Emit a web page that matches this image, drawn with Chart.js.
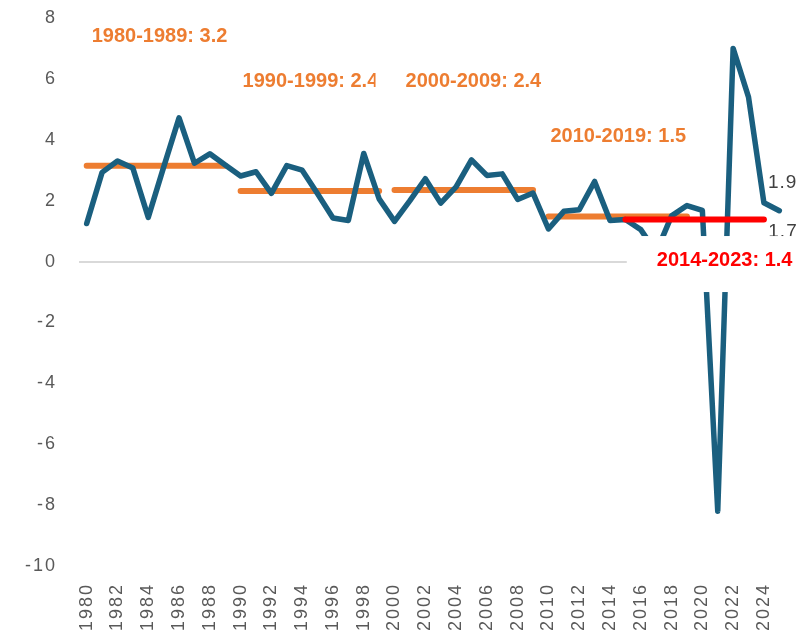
<!DOCTYPE html>
<html>
<head>
<meta charset="utf-8">
<script src="https://cdn.jsdelivr.net/npm/chart.js@4.4.1/dist/chart.umd.min.js"></script>
<style>
  html, body { margin: 0; padding: 0; background: #fff; }
  #wrap { width: 797px; height: 633px; }
</style>
</head>
<body>
<div id="wrap"><canvas id="growthChart" width="797" height="633"></canvas></div>
<script>
// Years on the x axis
const years = ['1980','1981','1982','1983','1984','1985','1986','1987','1988','1989',
               '1990','1991','1992','1993','1994','1995','1996','1997','1998','1999',
               '2000','2001','2002','2003','2004','2005','2006','2007','2008','2009',
               '2010','2011','2012','2013','2014','2015','2016','2017','2018','2019',
               '2020','2021','2022','2023','2024','2025'];

// Annual growth (%)
const growth = [1.25, 2.93, 3.30, 3.07, 1.45, 3.10, 4.72, 3.23, 3.54, 3.17,
                2.81, 2.95, 2.24, 3.15, 3.00, 2.23, 1.43, 1.35, 3.55, 2.06,
                1.32, 2.00, 2.72, 1.92, 2.45, 3.34, 2.83, 2.88, 2.04, 2.25,
                1.07, 1.65, 1.70, 2.63, 1.35, 1.38, 1.05, 0.30, 1.50, 1.84,
                1.68, -8.20, 7.00, 5.40, 1.93, 1.67];

// Decade averages (orange)
const decadeStart = ['1980', '1990', '2000', '2010'];
const decadeEnd   = ['1989', '1999', '2009', '2019'];
const decadeAvg   = [3.15, 2.32, 2.35, 1.48];
const decadeText  = ['1980-1989: 3.2', '1990-1999: 2.4', '2000-2009: 2.4', '2010-2019: 1.5'];

// Last ten years average (red)
const recentStart = '2015';
const recentEnd   = '2024';
const recentAvg   = 1.38;
const recentText  = '2014-2023: 1.4';

// Where the period labels sit (year, value)
const labelYear  = ['1980', '1990', '2000', '2010', '2016'];
const labelValue = [7.38, 5.92, 5.92, 4.1, 0.05];

// End-of-series value labels
const endYears = ['2024', '2025'];
const endText  = ['1.9', '1.7'];

// Y axis ticks
const yMin = -10, yMax = 8, yStep = 2;

const FONT = '"Liberation Sans", Arial, sans-serif';
const BLUE = '#1A5F7F';
const ORANGE = '#ED7D31';
const RED = '#FF0000';

function spanSeries(start, end, val) {
    const a = years.indexOf(start), b = years.indexOf(end);
    return years.map((_, i) => (i >= a && i <= b) ? val : null);
}

const datasets = [{
    label: 'Growth',
    data: growth,
    borderColor: BLUE,
    borderWidth: 5.5,
    pointRadius: 0,
    tension: 0,
    borderJoinStyle: 'round',
    borderCapStyle: 'round',
    order: 1
}];

decadeStart.forEach((s, i) => {
    datasets.push({
        label: decadeText[i],
        data: spanSeries(s, decadeEnd[i], decadeAvg[i]),
        borderColor: ORANGE,
        borderWidth: 6,
        pointRadius: 0,
        borderCapStyle: 'round',
        spanGaps: false,
        order: 2
    });
});

datasets.push({
    label: recentText,
    data: spanSeries(recentStart, recentEnd, recentAvg),
    borderColor: RED,
    borderWidth: 6,
    pointRadius: 0,
    borderCapStyle: 'round',
    spanGaps: false,
    order: 0
});

// Draws the value labels and the boxed period labels on top of the lines
const labelPlugin = {
    id: 'periodLabels',
    beforeDraw(chart) {
        chart.ctx.letterSpacing = '2px';
    },
    afterDatasetsDraw(chart) {
        const { ctx, scales: { x, y } } = chart;
        ctx.save();
        ctx.textBaseline = 'middle';
        ctx.textAlign = 'left';

        // 1.9 / 1.7 at the end of the line
        ctx.letterSpacing = '1px';
        ctx.font = '19px ' + FONT;
        ctx.fillStyle = '#404040';
        const endDx = [4, -11], endDy = [-20, 21];
        endYears.forEach((yr, i) => {
            const idx = years.indexOf(yr);
            ctx.fillText(endText[i], x.getPixelForValue(idx) + endDx[i], y.getPixelForValue(growth[idx]) + endDy[i]);
        });

        // period labels with white boxes
        ctx.letterSpacing = '0px';
        ctx.font = 'bold 20px ' + FONT;
        const texts = decadeText.concat([recentText]);
        const colors = [ORANGE, ORANGE, ORANGE, ORANGE, RED];
        const dx = [5, 2, 11, 2, 16];
        texts.forEach((t, i) => {
            const px = x.getPixelForValue(years.indexOf(labelYear[i])) + dx[i];
            const py = y.getPixelForValue(labelValue[i]);
            const w = ctx.measureText(t).width;
            ctx.fillStyle = '#fff';
            ctx.fillRect(px - 30, py - 24, w + 60, 56);
            ctx.fillStyle = colors[i];
            ctx.fillText(t, px, py);
        });
        ctx.restore();
    },
    afterDraw(chart) {
        chart.ctx.letterSpacing = '0px';
    }
};

new Chart(document.getElementById('growthChart'), {
    type: 'line',
    data: { labels: years, datasets: datasets },
    options: {
        responsive: false,
        animation: false,
        layout: { padding: { top: 18, right: 10, left: 0, bottom: 0 } },
        plugins: { legend: { display: false }, tooltip: { enabled: false } },
        scales: {
            x: {
                offset: true,
                grid: { display: false, drawTicks: false },
                border: { display: false },
                ticks: {
                    color: '#595959',
                    font: { size: 18, family: FONT },
                    minRotation: 90,
                    maxRotation: 90,
                    autoSkip: false,
                    padding: 17,
                    callback: function (v, i) { return i % 2 === 0 ? this.getLabelForValue(v) : ''; }
                },
                afterFit(s) {
                    s.height = 67;
                    s.paddingLeft = 0; s.paddingRight = 0;
                }
            },
            y: {
                min: yMin,
                max: yMax,
                grid: {
                    drawTicks: false,
                    lineWidth: 2,
                    color: c => c.tick && c.tick.value === 0 ? '#D9D9D9' : 'rgba(0,0,0,0)'
                },
                border: { display: false },
                ticks: {
                    stepSize: yStep,
                    color: '#595959',
                    font: { size: 18, family: FONT },
                    padding: 22
                },
                afterFit(s) {
                    s.width = 79;
                    s.paddingTop = 0; s.paddingBottom = 0;
                }
            }
        }
    },
    plugins: [labelPlugin]
});
</script>
</body>
</html>
